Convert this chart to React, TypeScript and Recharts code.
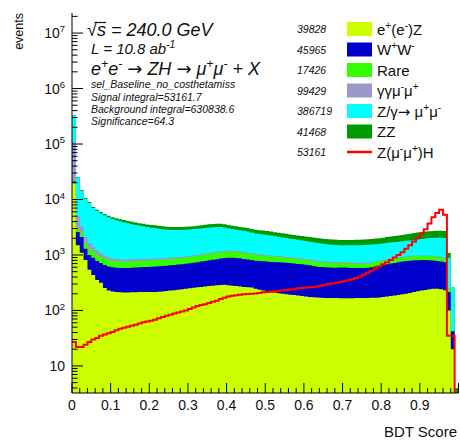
import React from "react";
import { ComposedChart, Area, Line, XAxis, YAxis } from "recharts";

// events per bin (bin width 0.01 in BDT score, 0 .. 1)
const eeZ = [
  19800, 1500, 1100, 810, 540, 435, 355, 315, 255, 230,
  220, 215, 212, 210, 210, 212, 212, 214, 215, 215,
  215, 216, 218, 220, 225, 228, 232, 236, 240, 245,
  250, 256, 262, 266, 270, 275, 280, 284, 288, 290,
  285, 280, 275, 270, 265, 262, 258, 245, 235, 228,
  220, 215, 210, 205, 200, 195, 192, 190, 186, 182,
  178, 175, 173, 172, 170, 168, 168, 167, 167, 166,
  166, 166, 166, 167, 167, 168, 168, 169, 170, 172,
  175, 178, 182, 186, 190, 195, 200, 207, 215, 222,
  228, 234, 240, 245, 245, 240, 232, 100, 20, 0,
];
const ww = [
  1200, 1100, 1000, 490, 460, 455, 425, 405, 405, 390,
  380, 375, 373, 370, 370, 378, 383, 386, 390, 395,
  400, 404, 407, 410, 415, 422, 428, 434, 440, 450,
  460, 469, 478, 494, 510, 525, 540, 556, 572, 590,
  605, 610, 610, 600, 585, 568, 552, 545, 545, 542,
  540, 535, 535, 535, 535, 530, 523, 510, 504, 498,
  487, 475, 457, 443, 435, 432, 427, 423, 423, 429,
  429, 424, 419, 413, 413, 417, 422, 431, 450, 468,
  485, 502, 518, 534, 550, 565, 575, 583, 585, 583,
  582, 576, 565, 550, 535, 520, 508, 115, 22, 0,
];
const rare = [
  500, 400, 400, 350, 300, 260, 240, 220, 200, 190,
  180, 178, 176, 175, 175, 177, 178, 180, 182, 183,
  185, 186, 188, 190, 192, 195, 198, 200, 204, 208,
  213, 218, 222, 228, 234, 240, 246, 252, 258, 264,
  267, 265, 260, 252, 244, 236, 228, 220, 212, 205,
  198, 192, 186, 180, 175, 170, 165, 160, 156, 152,
  148, 144, 140, 136, 133, 131, 130, 129, 128, 127,
  125, 122, 120, 118, 117, 117, 118, 120, 124, 128,
  130, 132, 134, 136, 138, 140, 141, 142, 143, 144,
  145, 145, 144, 142, 140, 137, 133, 30, 0, 0,
];
const ggMuMu = [
  88000, 2000, 800, 450, 350, 250, 170, 140, 120, 100,
  90, 85, 80, 75, 70, 68, 66, 64, 62, 60,
  58, 56, 55, 54, 53, 52, 51, 50, 50, 50,
  50, 50, 50, 50, 50, 50, 50, 50, 50, 50,
  50, 50, 48, 47, 46, 45, 44, 43, 42, 41,
  40, 40, 39, 38, 37, 36, 35, 34, 33, 32,
  31, 30, 30, 29, 28, 28, 27, 27, 26, 26,
  26, 26, 26, 26, 26, 26, 27, 27, 28, 28,
  29, 29, 30, 30, 31, 31, 32, 32, 33, 33,
  33, 33, 33, 32, 31, 30, 29, 10, 0, 0,
];
const zgMuMu = [
  220500, 19800, 11050, 8120, 7020, 5600, 5020, 4590, 4220, 3870,
  3590, 3387, 3199, 3060, 2915, 2745, 2641, 2536, 2431, 2327,
  2252, 2188, 2112, 2036, 1965, 1933, 1901, 1890, 1896, 1897,
  1917, 1937, 1948, 1972, 2006, 2050, 2054, 2058, 2012, 1936,
  1833, 1745, 1667, 1621, 1580, 1539, 1468, 1397, 1366, 1334,
  1302, 1258, 1220, 1172, 1123, 1099, 1055, 1026, 1001, 966,
  936, 906, 890, 870, 844, 821, 798, 784, 766, 752,
  744, 752, 759, 776, 777, 792, 795, 793, 788, 784,
  791, 809, 816, 824, 831, 839, 852, 866, 894, 928,
  962, 1002, 1038, 1061, 1089, 1113, 1118, 635, 223, 0,
];
const zz = [
  2000, 600, 450, 380, 330, 300, 290, 290, 300, 320,
  340, 360, 360, 360, 360, 370, 370, 370, 370, 370,
  370, 370, 370, 370, 370, 370, 370, 370, 370, 370,
  370, 370, 390, 410, 430, 440, 450, 460, 460, 450,
  440, 430, 420, 410, 400, 400, 400, 400, 400, 400,
  400, 400, 390, 390, 390, 380, 380, 380, 370, 370,
  370, 370, 370, 370, 370, 370, 370, 370, 370, 370,
  370, 370, 380, 380, 390, 390, 400, 410, 420, 430,
  440, 450, 470, 490, 510, 530, 560, 590, 610, 630,
  650, 660, 670, 680, 680, 690, 680, 200, 0, 4,
];
const signal = [
  27, 22, 22, 24, 27, 30, 32, 35, 37, 39,
  41, 44, 47, 49, 51, 53, 55, 58, 61, 63,
  65, 68, 72, 76, 80, 84, 88, 92, 96, 100,
  106, 113, 120, 125, 130, 136, 143, 150, 160, 170,
  178, 184, 188, 192, 196, 198, 200, 202, 206, 212,
  215, 218, 220, 225, 230, 234, 238, 242, 250, 255,
  258, 262, 265, 270, 280, 290, 300, 310, 315, 325,
  335, 350, 365, 385, 405, 440, 480, 520, 570, 620,
  680, 740, 810, 900, 1000, 1120, 1300, 1500, 1750, 2050,
  2450, 2900, 3700, 4800, 5700, 6500, 5300, 35, 35, 0,
];

const xTickLabels = ["0", "0.1", "0.2", "0.3", "0.4", "0.5", "0.6", "0.7", "0.8", "0.9"];
const yMajorExps = [1, 2, 3, 4, 5, 6, 7];

const headerLines = [
  { text: "√s = 240.0 GeV", size: 18, y: 36 },
  { text: "L = 10.8 ab^{-1}", size: 15, y: 54 },
  { text: "e^{+}e^{-} → ZH → μ^{+}μ^{-} + X", size: 18, y: 75 },
  { text: "sel_Baseline_no_costhetamiss", size: 10.5, y: 88 },
  { text: "Signal integral=53161.7", size: 10.5, y: 100.5 },
  { text: "Background integral=630838.6", size: 10.5, y: 112.5 },
  { text: "Significance=64.3", size: 10.5, y: 124.5 },
];

const legendItems = [
  { label: "e^{+}(e^{-})Z", count: "39828", color: "#ccff00", line: false },
  { label: "W^{+}W^{-}", count: "45965", color: "#0000cc", line: false },
  { label: "Rare", count: "17426", color: "#33ff00", line: false },
  { label: "γγμ^{-}μ^{+}", count: "99429", color: "#9999cc", line: false },
  { label: "Z/γ→ μ^{+}μ^{-}", count: "386719", color: "#00ffff", line: false },
  { label: "ZZ", count: "41468", color: "#009900", line: false },
  { label: "Z(μ^{-}μ^{+})H", count: "53161", color: "#ff0000", line: true },
];

const W = 460;
const H = 440;
const LEFT = 72;
const RIGHT = 458.5;
const TOP = 13;
const BOTTOM = 393;
const Y_MIN = 3.25;
const Y_MAX = 2.3e7;
const FLOOR = 0.5;
const INK = "#111";
const FONT = "'Liberation Sans', Arial, Helvetica, sans-serif";

// stack order, bottom first
const stack = [
  { key: "eeZ", values: eeZ, color: "#ccff00" },
  { key: "ww", values: ww, color: "#0000cc" },
  { key: "rare", values: rare, color: "#33ff00" },
  { key: "gg", values: ggMuMu, color: "#9999cc" },
  { key: "zg", values: zgMuMu, color: "#00ffff" },
  { key: "zz", values: zz, color: "#009900" },
];

const nBins = eeZ.length;
const rows = Array.from({ length: nBins + 1 }, (_, i) => {
  const k = Math.min(i, nBins - 1);
  const row: Record<string, number> = { x: i / nBins };
  let sum = 0;
  stack.forEach((s) => {
    sum += s.values[k];
    row[s.key] = Math.max(sum, FLOOR);
  });
  row.sig = Math.max(signal[k], FLOOR);
  return row;
});

const xTicks = Array.from({ length: 51 }, (_, i) => Number((i * 0.02).toFixed(2)));
const yTicks: number[] = [];
for (let e = 0; e <= 7; e++) {
  for (let m = 1; m <= 9; m++) {
    const v = m * Math.pow(10, e);
    if (v >= Y_MIN && v <= Y_MAX) yTicks.push(v);
  }
}

// tiny ROOT-like latex: ^{..} superscripts, arrows taken from DejaVu
function Rich({ x, y, text, size, italic = false, anchor = "start" }: any) {
  const parts = text.split(/(\^\{[^}]*\}|→)/).filter((s: string) => s.length > 0);
  const shift = size * 0.4;
  let raised = false;
  return (
    <text x={x} y={y} fontSize={size} fontStyle={italic ? "italic" : "normal"} textAnchor={anchor} fill={INK}>
      {parts.map((p: string, i: number) => {
        if (p.startsWith("^{")) {
          const dy = raised ? 0 : -shift;
          raised = true;
          return (
            <tspan key={i} dy={dy} fontSize={size * 0.68}>
              {p.slice(2, -1)}
            </tspan>
          );
        }
        const dy = raised ? shift : 0;
        raised = false;
        if (p === "→") {
          return (
            <tspan key={i} dy={dy} fontFamily="'DejaVu Sans'" fontStyle="normal">
              {p}
            </tspan>
          );
        }
        return (
          <tspan key={i} dy={dy}>
            {p}
          </tspan>
        );
      })}
    </text>
  );
}

const isMajorX = (v: number) => Math.round(v * 50) % 5 === 0;
const isMajorY = (v: number) => {
  const e = Math.log10(v);
  return Math.abs(e - Math.round(e)) < 1e-9;
};

function BottomTick(p: any) {
  const v = p.payload.value;
  const major = isMajorX(v);
  const idx = Math.round(v * 10);
  return (
    <g>
      <line x1={p.x} x2={p.x} y1={BOTTOM} y2={BOTTOM - (major ? 10 : 5)} stroke="#000" />
      {major && idx < xTickLabels.length && (
        <text x={p.x} y={BOTTOM + 17} fontSize={14} textAnchor="middle" fill={INK}>
          {xTickLabels[idx]}
        </text>
      )}
    </g>
  );
}

function TopTick(p: any) {
  const major = isMajorX(p.payload.value);
  return <line x1={p.x} x2={p.x} y1={TOP} y2={TOP + (major ? 10 : 5)} stroke="#000" />;
}

function LeftTick(p: any) {
  const v = p.payload.value;
  const major = isMajorY(v);
  const e = Math.round(Math.log10(v));
  return (
    <g>
      <line x1={LEFT} x2={LEFT + (major ? 11 : 5.5)} y1={p.y} y2={p.y} stroke="#000" />
      {major && yMajorExps.includes(e) && (
        <Rich x={65} y={p.y + 5} text={e === 1 ? "10" : `10^{${e}}`} size={14} anchor="end" />
      )}
    </g>
  );
}

function RightTick(p: any) {
  const major = isMajorY(p.payload.value);
  return <line x1={RIGHT} x2={RIGHT - (major ? 11 : 5.5)} y1={p.y} y2={p.y} stroke="#000" />;
}

export default function App() {
  return (
    <div style={{ position: "absolute", left: 0, top: 0, width: W, height: H, background: "#fff", fontFamily: FONT }}>
      <ComposedChart width={W} height={H} data={rows} margin={{ top: TOP, right: W - RIGHT, bottom: 0, left: 0 }}>
        <XAxis
          xAxisId="b"
          dataKey="x"
          type="number"
          domain={[0, 1]}
          ticks={xTicks}
          interval={0}
          height={H - BOTTOM}
          tickLine={false}
          tick={(p: any) => <BottomTick {...p} />}
          axisLine={{ stroke: "#000" }}
          allowDataOverflow
        />
        <XAxis
          xAxisId="t"
          orientation="top"
          dataKey="x"
          type="number"
          domain={[0, 1]}
          ticks={xTicks}
          interval={0}
          height={0}
          tickLine={false}
          tick={(p: any) => <TopTick {...p} />}
          axisLine={{ stroke: "#000" }}
          allowDataOverflow
        />
        <YAxis
          yAxisId="l"
          type="number"
          scale="log"
          domain={[Y_MIN, Y_MAX]}
          ticks={yTicks}
          interval={0}
          width={LEFT}
          tickLine={false}
          tick={(p: any) => <LeftTick {...p} />}
          axisLine={{ stroke: "#000" }}
          allowDataOverflow
        />
        <YAxis
          yAxisId="r"
          orientation="right"
          type="number"
          scale="log"
          domain={[Y_MIN, Y_MAX]}
          ticks={yTicks}
          interval={0}
          width={0}
          tickLine={false}
          tick={(p: any) => <RightTick {...p} />}
          axisLine={{ stroke: "#000" }}
          allowDataOverflow
        />
        {stack
          .slice()
          .reverse()
          .map((s) => (
            <Area
              key={s.key}
              xAxisId="b"
              yAxisId="l"
              dataKey={s.key}
              type="stepAfter"
              fill={s.color}
              fillOpacity={1}
              stroke="none"
              baseValue={Y_MIN}
              isAnimationActive={false}
            />
          ))}
        <Line
          xAxisId="b"
          yAxisId="l"
          dataKey="sig"
          type="stepAfter"
          stroke="#ff0000"
          strokeWidth={2}
          dot={false}
          activeDot={false}
          isAnimationActive={false}
        />
        <Line
          xAxisId="t"
          yAxisId="r"
          dataKey="sig"
          stroke="none"
          dot={false}
          activeDot={false}
          isAnimationActive={false}
        />
      </ComposedChart>
      <svg
        width={W}
        height={H}
        style={{ position: "absolute", left: 0, top: 0, pointerEvents: "none", fontFamily: FONT }}
      >
        {headerLines.map((h, i) => (
          <Rich key={i} x={i === 0 ? 87 : 91} y={h.y} text={h.text} size={h.size} italic />
        ))}
        <line x1={94.5} x2={106} y1={22.5} y2={22.5} stroke={INK} strokeWidth={1.2} />
        {legendItems.map((it, i) => {
          const cy = 29 + i * 20.5;
          return (
            <g key={it.count}>
              <text x={297} y={cy + 4} fontSize={10.5} fontStyle="italic" fill={INK}>
                {it.count}
              </text>
              {it.line ? (
                <line x1={347} x2={372} y1={cy} y2={cy} stroke={it.color} strokeWidth={2.5} />
              ) : (
                <rect x={347} y={cy - 7} width={25} height={14} fill={it.color} />
              )}
              <Rich x={377} y={cy + 5.5} text={it.label} size={15} />
            </g>
          );
        })}
        <text x={23} y={13} fontSize={12.5} textAnchor="end" transform="rotate(-90 23 13)" fill={INK}>
          events
        </text>
        <text x={457} y={437} fontSize={15} textAnchor="end" fill={INK}>
          BDT Score
        </text>
      </svg>
    </div>
  );
}
